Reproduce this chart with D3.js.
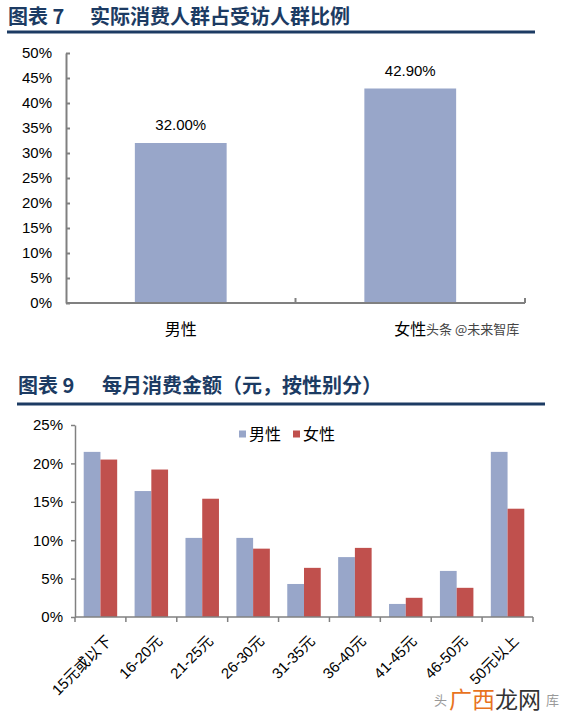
<!DOCTYPE html>
<html>
<head>
<meta charset="utf-8">
<script src="https://cdn.jsdelivr.net/npm/d3@7"></script>
<style>
  body { margin: 0; background: #fff; }
  svg { display: block; font-family: "Liberation Sans", Arial, "Noto Sans CJK SC", sans-serif; }
  .title { font-family: "Noto Sans CJK SC", sans-serif; font-weight: bold; font-size: 20px; fill: #1c3b63; }
  .axis1 path, .axis1 line { stroke: #808080; stroke-width: 2; }
  .axis2 path, .axis2 line { stroke: #808080; stroke-width: 1.5; }
  .axis1 text, .axis2 text { fill: #000; font-size: 15px; }
</style>
</head>
<body>
<svg width="579" height="725"></svg>
<script>
// ---- data: 图表 7
var genderCats = ["男性", "女性"];
var ratioValues = [0.32, 0.429];
var ratioTicks = [0, 0.05, 0.1, 0.15, 0.2, 0.25, 0.3, 0.35, 0.4, 0.45, 0.5];

// ---- data: 图表 9 (单位 %)
var spendCats = ["15元或以下", "16-20元", "21-25元", "26-30元", "31-35元", "36-40元", "41-45元", "46-50元", "50元以上"];
var maleShare = [21.5, 16.4, 10.3, 10.3, 4.3, 7.8, 1.7, 6.0, 21.5];
var femaleShare = [20.5, 19.2, 15.4, 8.9, 6.4, 9.0, 2.5, 3.8, 14.1];
var spendTicks = [0, 5, 10, 15, 20, 25];
var seriesNames = ["男性", "女性"];
var seriesColors = ["#98a6c9", "#c0504d"];

var svg = d3.select("svg");

// titels met lijn eronder
function title(y, num, text, x0, x1, lineY, lineEnd) {
  svg.append("text").attr("class", "title").attr("x", x0).attr("y", y).text("图表 " + num);
  svg.append("text").attr("class", "title").attr("x", x1).attr("y", y).text(text);
  svg.append("line")
    .attr("x1", x0 - 1).attr("x2", lineEnd)
    .attr("y1", lineY).attr("y2", lineY)
    .attr("stroke", "#1c3b63").attr("stroke-width", 3);
}
title(24, "7", "实际消费人群占受访人群比例", 8, 90, 32, 535);
title(393, "9", "每月消费金额（元，按性别分）", 18, 102, 404, 545);

// =============== chart 1 ===============
var x1 = d3.scaleBand().domain(genderCats).range([66, 525]);
var bar1 = d3.scaleBand().domain(["v"]).range([0, x1.bandwidth()]).paddingInner(0).paddingOuter(0.75);
var y1 = d3.scaleLinear().domain([0, 0.5]).range([303, 53]);

var g1 = svg.append("g");

g1.selectAll("rect.bar")
  .data(genderCats)
  .enter().append("rect")
  .attr("class", "bar")
  .attr("x", function(d) { return x1(d) + bar1("v"); })
  .attr("y", function(d, i) { return y1(ratioValues[i]); })
  .attr("width", bar1.bandwidth())
  .attr("height", function(d, i) { return y1(0) - y1(ratioValues[i]); })
  .attr("fill", "#98a6c9");

g1.selectAll("text.val")
  .data(genderCats)
  .enter().append("text")
  .attr("class", "val")
  .attr("x", function(d) { return x1(d) + x1.bandwidth() / 2; })
  .attr("y", function(d, i) { return y1(ratioValues[i]) - 13; })
  .attr("text-anchor", "middle")
  .attr("font-size", 15)
  .text(function(d, i) { return d3.format(".2%")(ratioValues[i]); });

g1.append("g")
  .attr("class", "axis1")
  .attr("transform", "translate(66,0)")
  .call(d3.axisLeft(y1).tickValues(ratioTicks).tickFormat(d3.format(".0%"))
    .tickSizeInner(-4).tickSizeOuter(0).tickPadding(14));

var xa1 = g1.append("g")
  .attr("class", "axis1")
  .attr("transform", "translate(0,303)")
  .call(d3.axisBottom(x1).tickSize(0).tickPadding(0));
xa1.selectAll(".tick text").remove();
xa1.select(".domain").attr("d", "M66,0H525");

// grensstreepjes tussen de categorieen, naar binnen
g1.selectAll("line.sep")
  .data(genderCats)
  .enter().append("line")
  .attr("x1", function(d) { return x1(d) + x1.bandwidth(); })
  .attr("x2", function(d) { return x1(d) + x1.bandwidth(); })
  .attr("y1", 303).attr("y2", 298)
  .attr("stroke", "#808080").attr("stroke-width", 2);

g1.selectAll("text.cat")
  .data(genderCats)
  .enter().append("text")
  .attr("class", "cat")
  .attr("x", function(d) { return x1(d) + x1.bandwidth() / 2; })
  .attr("y", 335)
  .attr("text-anchor", "middle")
  .attr("font-size", 16)
  .text(function(d) { return d; });

// watermerk
svg.append("text")
  .attr("x", 426).attr("y", 334)
  .attr("font-family", "Noto Sans CJK SC")
  .attr("font-size", 13)
  .attr("fill", "#444")
  .text("头条 @未来智库");

// =============== chart 2 ===============
var x2 = d3.scaleBand().domain(spendCats).range([75, 533]);
var xs = d3.scaleBand().domain(seriesNames).range([0, x2.bandwidth()]).paddingInner(0).paddingOuter(0.52);
var y2 = d3.scaleLinear().domain([0, 25]).range([617, 425]);

var g2 = svg.append("g");

var series = seriesNames.map(function(name, k) {
  return { key: name, values: (k === 0 ? maleShare : femaleShare) };
});

g2.selectAll("g.series")
  .data(series)
  .enter().append("g")
  .attr("class", "series")
  .attr("fill", function(d, k) { return seriesColors[k]; })
  .selectAll("rect")
  .data(function(d) { return d.values.map(function(v, i) { return { key: d.key, cat: spendCats[i], v: v }; }); })
  .enter().append("rect")
  .attr("x", function(d) { return x2(d.cat) + xs(d.key); })
  .attr("y", function(d) { return y2(d.v); })
  .attr("width", xs.bandwidth())
  .attr("height", function(d) { return y2(0) - y2(d.v); });

g2.append("g")
  .attr("class", "axis2")
  .attr("transform", "translate(75,0)")
  .call(d3.axisLeft(y2).tickValues(spendTicks).tickFormat(function(d) { return d + "%"; })
    .tickSizeInner(4).tickSizeOuter(0).tickPadding(8));

var xa2 = g2.append("g")
  .attr("class", "axis2")
  .attr("transform", "translate(0,617)")
  .call(d3.axisBottom(x2).tickSize(0));
xa2.selectAll(".tick text").remove();
xa2.select(".domain").attr("d", "M75,0H533");

// streepjes op de categoriegrenzen, naar buiten
g2.selectAll("line.sep")
  .data([spendCats[0]].concat(spendCats))
  .enter().append("line")
  .attr("x1", function(d, i) { return i === 0 ? x2(d) : x2(d) + x2.bandwidth(); })
  .attr("x2", function(d, i) { return i === 0 ? x2(d) : x2(d) + x2.bandwidth(); })
  .attr("y1", 617).attr("y2", 622)
  .attr("stroke", "#808080").attr("stroke-width", 1.5);

// schuine labels
g2.selectAll("text.cat")
  .data(spendCats)
  .enter().append("text")
  .attr("class", "cat")
  .attr("transform", function(d) { return "translate(" + (x2(d) + x2.bandwidth() / 2 + 4) + ",634) rotate(-45)"; })
  .attr("text-anchor", "end")
  .attr("dy", "0.75em")
  .attr("font-size", 15)
  .text(function(d) { return d; });

// legenda
var legend = g2.selectAll("g.legend")
  .data(seriesNames)
  .enter().append("g")
  .attr("class", "legend")
  .attr("transform", function(d, i) { return "translate(" + (239 + i * 54) + ",434)"; });

legend.append("rect")
  .attr("y", -3.5)
  .attr("width", 7)
  .attr("height", 7)
  .attr("fill", function(d, i) { return seriesColors[i]; });

legend.append("text")
  .attr("x", 10)
  .attr("dy", "0.36em")
  .attr("font-size", 16)
  .text(function(d) { return d; });

// watermerk onderaan: alleen de stukjes naast het logo zijn zichtbaar
svg.append("text")
  .attr("x", 434).attr("y", 705)
  .attr("font-family", "Noto Sans CJK SC")
  .attr("font-size", 13)
  .attr("fill", "#999")
  .text("头");
svg.append("text")
  .attr("x", 546).attr("y", 705)
  .attr("font-family", "Noto Sans CJK SC")
  .attr("font-size", 13)
  .attr("fill", "#999")
  .text("库");
var logo = svg.append("text")
  .attr("x", 449).attr("y", 708)
  .attr("font-family", "Noto Sans CJK SC")
  .attr("font-size", 23);
logo.append("tspan").attr("fill", "#e8731e").text("广西");
logo.append("tspan").attr("fill", "#333").text("龙网");
</script>
</body>
</html>
